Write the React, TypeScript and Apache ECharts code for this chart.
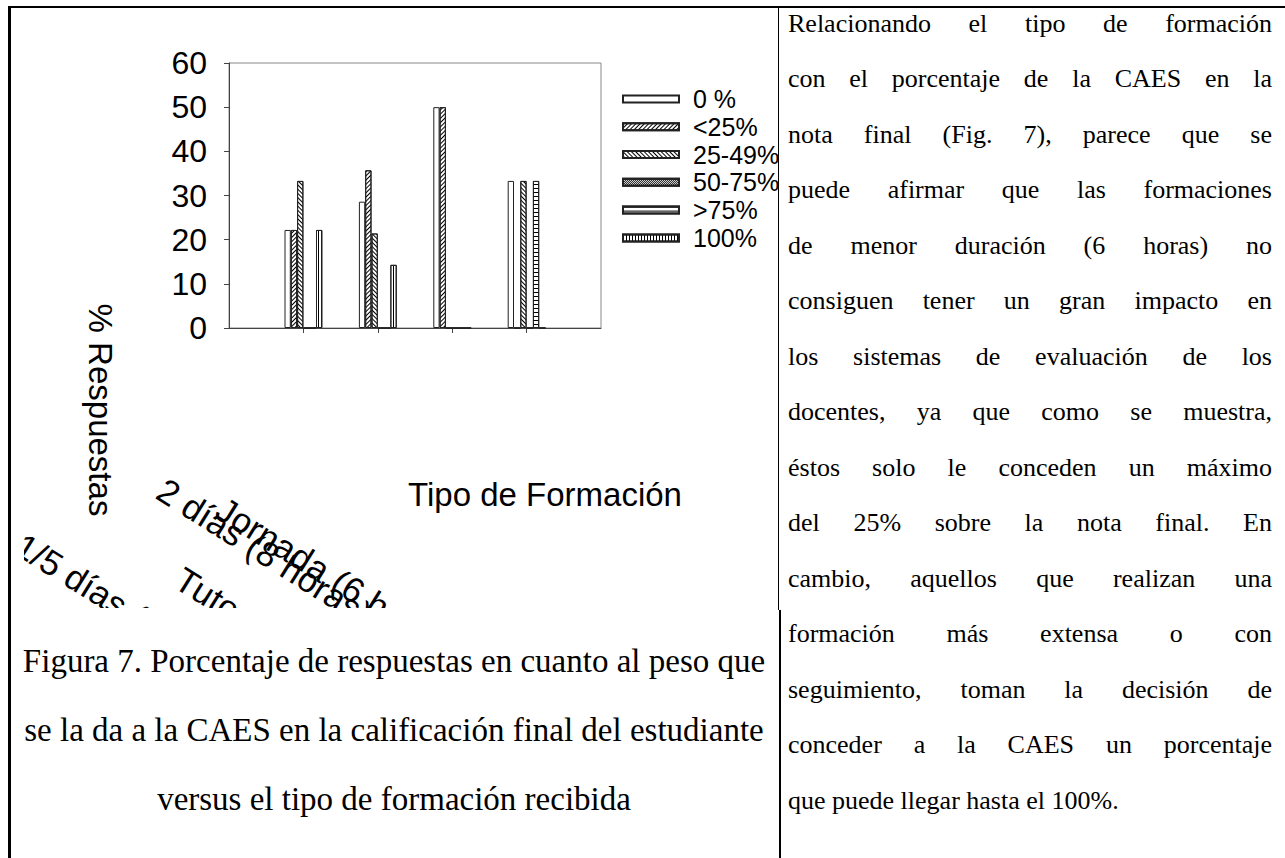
import React, { useEffect, useRef } from "react";
import * as echarts from "echarts";

// ---- data ----
const categories = ["1/5 días (30 horas)", "2 días (8 horas)", "Jornada (6 horas)", "Tutorías"];
const seriesNames = ["0 %", "<25%", "25-49%", "50-75%", ">75%", "100%"];
const pct0 = [22.2, 28.6, 50, 33.3];
const pctLt25 = [22.2, 35.7, 50, 0];
const pct25to49 = [33.3, 21.4, 0, 33.3];
const pct50to75 = [0, 0, 0, 0];
const pctGt75 = [0, 0, 0, 33.3];
const pct100 = [22.2, 14.3, 0, 0];
const yMin = 0;
const yMax = 60;
const yStep = 10;
const yAxisTitle = "% Respuestas";
const xAxisTitle = "Tipo de Formación";

const captionLines = [
  "Figura 7. Porcentaje de respuestas en cuanto al peso que",
  "se la da a la CAES en la calificación final del estudiante",
  "versus el tipo de formación recibida",
];
const bodyLines = [
  "Relacionando el tipo de formación",
  "con el porcentaje de la CAES en la",
  "nota final (Fig. 7), parece que se",
  "puede afirmar que las formaciones",
  "de menor duración (6 horas) no",
  "consiguen tener un gran impacto en",
  "los sistemas de evaluación de los",
  "docentes, ya que como se muestra,",
  "éstos solo le conceden un máximo",
  "del 25% sobre la nota final. En",
  "cambio, aquellos que realizan una",
  "formación más extensa o con",
  "seguimiento, toman la decisión de",
  "conceder a la CAES un porcentaje",
  "que puede llegar hasta el 100%.",
];

// ---- layout / style (not data) ----
const SANS = '"Liberation Sans", Arial, sans-serif';
const SERIF = '"Liberation Serif", "Times New Roman", serif';
const CHART_LEFT = 24;
const CHART_TOP = 8;
// displaced category label anchors (chart coords), same order as categories
const catLabelPos = [
  [4, 519],
  [146, 464],
  [205, 483],
  [164, 553],
];
const labelAngle = (-32 * Math.PI) / 180;

const decals: any[] = [
  null,
  { symbol: "rect", symbolSize: 1, color: "#000", backgroundColor: "#fff", dashArrayX: [1, 0], dashArrayY: [1, 2], rotation: -Math.PI / 4 },
  { symbol: "rect", symbolSize: 1, color: "#000", backgroundColor: "#fff", dashArrayX: [1, 0], dashArrayY: [1, 2], rotation: Math.PI / 4 },
  { symbol: "rect", symbolSize: 1, color: "#000", backgroundColor: "#777", dashArrayX: [[1, 1], [0, 1, 1, 0]], dashArrayY: [1, 0] },
  { symbol: "rect", symbolSize: 1, color: "#000", backgroundColor: "#fff", dashArrayX: [1, 0], dashArrayY: [1, 3] },
  { symbol: "rect", symbolSize: 1, color: "#000", backgroundColor: "#fff", dashArrayX: [1, 2], dashArrayY: [1, 0] },
];

function Chart() {
  const ref = useRef<HTMLDivElement>(null);
  useEffect(() => {
    if (!ref.current) return;
    const chart = echarts.init(ref.current, undefined, { renderer: "svg" });
    const values = [pct0, pctLt25, pct25to49, pct50to75, pctGt75, pct100];
    const pad = (a: number[]) => [null, ...a, null];
    chart.setOption({
      animation: false,
      grid: {
        left: 205,
        top: 55,
        width: 372,
        height: 265,
        show: true,
        borderColor: "#888",
        borderWidth: 1,
        backgroundColor: "transparent",
        containLabel: false,
      },
      legend: {
        orient: "vertical",
        left: 598,
        top: 77,
        padding: 0,
        itemWidth: 56,
        itemHeight: 7,
        itemGap: 0,
        icon: "rect",
        selectedMode: false,
        data: seriesNames,
        textStyle: { fontFamily: SANS, fontSize: 25, color: "#000", lineHeight: 27.8, padding: [0, 0, 0, 9] },
      },
      xAxis: {
        type: "category",
        data: ["", ...categories, ""],
        boundaryGap: false,
        axisLine: { show: true, lineStyle: { color: "#444", width: 1 } },
        axisTick: {
          show: true,
          length: 5,
          interval: (i: number) => i > 0 && i < categories.length + 1,
          lineStyle: { color: "#444" },
        },
        axisLabel: { show: false },
        splitLine: { show: false },
      },
      yAxis: {
        type: "value",
        min: yMin,
        max: yMax,
        interval: yStep,
        axisLine: { show: true, lineStyle: { color: "#444", width: 1 } },
        axisTick: { show: true, length: 5, lineStyle: { color: "#444" } },
        axisLabel: { fontFamily: SANS, fontSize: 32, color: "#000", margin: 22 },
        splitLine: { show: false },
      },
      series: seriesNames.map((name, k) => ({
        name,
        type: "bar",
        barWidth: 6.3,
        barGap: "0%",
        data: pad(values[k]),
        itemStyle: {
          color: "#fff",
          borderColor: "#222",
          borderWidth: 1,
          ...(decals[k] ? { decal: decals[k] } : {}),
        },
      })),
      graphic: [
        {
          type: "text",
          x: 76,
          y: 402,
          rotation: -Math.PI / 2,
          style: { text: yAxisTitle, font: `33px ${SANS}`, fill: "#000", textAlign: "center", textVerticalAlign: "middle" },
        },
        {
          type: "text",
          x: 521,
          y: 486,
          style: { text: xAxisTitle, font: `33px ${SANS}`, fill: "#000", textAlign: "center", textVerticalAlign: "middle" },
        },
        ...categories.map((c, i) => ({
          type: "text",
          x: catLabelPos[i][0],
          y: catLabelPos[i][1],
          rotation: labelAngle,
          style: { text: c, font: `35px ${SANS}`, fill: "#000", textAlign: "left", textVerticalAlign: "top" },
        })),
      ],
    });
    return () => chart.dispose();
  }, []);
  return (
    <div
      ref={ref}
      style={{ position: "absolute", left: CHART_LEFT, top: CHART_TOP, width: 760, height: 600, overflow: "hidden" }}
    />
  );
}

export default function App() {
  const bodyPitch = 55.5;
  const capPitch = 69;
  return (
    <div style={{ position: "fixed", left: 0, top: 0, width: 1285, height: 858, background: "#fff", overflow: "hidden" }}>
      <Chart />
      {/* frame lines */}
      <div style={{ position: "absolute", left: 8, top: 5.5, width: 1277, height: 2.5, background: "#000" }} />
      <div style={{ position: "absolute", left: 8, top: 5.5, width: 2.5, height: 853, background: "#000" }} />
      <div style={{ position: "absolute", left: 777.5, top: 6, width: 1.5, height: 604, background: "#000" }} />
      <div style={{ position: "absolute", left: 779, top: 610, width: 2, height: 248, background: "#000" }} />
      {/* caption */}
      {captionLines.map((t, i) => (
        <div
          key={"c" + i}
          style={{
            position: "absolute",
            left: 10,
            width: 768,
            top: 627 + i * capPitch,
            height: capPitch,
            lineHeight: capPitch + "px",
            fontFamily: SERIF,
            fontSize: 33,
            color: "#000",
            textAlign: "center",
            whiteSpace: "nowrap",
          }}
        >
          {t}
        </div>
      ))}
      {/* body text */}
      {bodyLines.map((t, i) => (
        <div
          key={"b" + i}
          style={{
            position: "absolute",
            left: 788,
            width: 484,
            top: -4.5 + i * bodyPitch,
            height: bodyPitch,
            lineHeight: bodyPitch + "px",
            fontFamily: SERIF,
            fontSize: 26,
            color: "#000",
            textAlign: "justify",
            textAlignLast: i === bodyLines.length - 1 ? "left" : "justify",
          }}
        >
          {t}
        </div>
      ))}
    </div>
  );
}
